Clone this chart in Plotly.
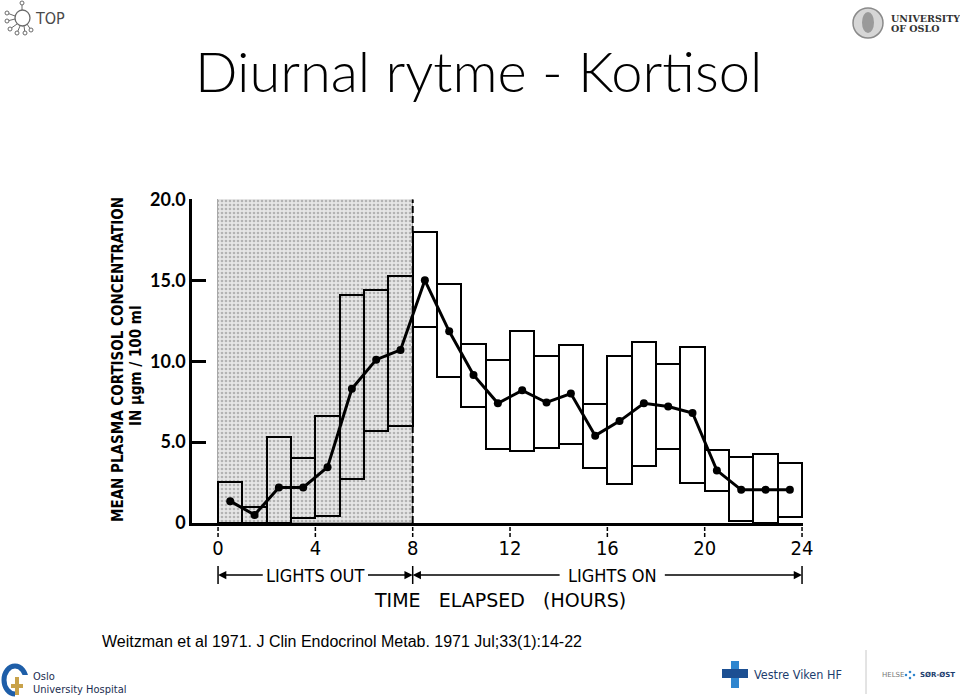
import plotly.graph_objects as go

# ---------------- data ----------------
hours_mid = [0.5, 1.5, 2.5, 3.5, 4.5, 5.5, 6.5, 7.5, 8.5, 9.5, 10.5, 11.5,
             12.5, 13.5, 14.5, 15.5, 16.5, 17.5, 18.5, 19.5, 20.5, 21.5, 22.5, 23.5]
box_upper = [2.55, 1.0, 5.3, 4.0, 6.6, 14.1, 14.4, 15.3, 18.0, 14.8, 11.05, 10.1,
             11.9, 10.3, 11.0, 7.35, 10.3, 11.2, 9.8, 10.9, 4.5, 4.05, 4.25, 3.7]
box_lower = [0.0, 0.0, 0.0, 0.3, 0.45, 2.75, 5.7, 6.0, 12.1, 9.0, 7.15, 4.6,
             4.45, 4.65, 4.9, 3.4, 2.4, 3.55, 4.6, 2.5, 2.0, 0.1, 0.0, 0.35]
mean_cortisol = [1.35, 0.5, 2.2, 2.2, 3.45, 8.3, 10.1, 10.7, 15.0, 11.85, 9.15, 7.4,
                 8.2, 7.45, 8.0, 5.4, 6.3, 7.4, 7.2, 6.8, 3.25, 2.05, 2.05, 2.05]

x_ticks = [0, 4, 8, 12, 16, 20, 24]
y_ticks = [0, 5, 10, 15, 20]
y_ticktext = ["0", "5.0", "10.0", "15.0", "20.0"]
lights_out = [0, 8]
lights_on = [8, 24]
y_top = 20

# ---------------- layout geometry helpers ----------------
W, H = 960, 698
L, R, T, B = 192, 803, 199, 523


def px(x):
    return (x - L) / (R - L)


def py(y):
    return (B - y) / (B - T)


NARROW = "DejaVu Sans Condensed, Liberation Sans Narrow, Arial Narrow, sans-serif"

fig = go.Figure()

# lights-out shaded region (stippled)
fig.add_trace(go.Bar(
    x=[(lights_out[0] + lights_out[1]) / 2], y=[y_top], width=[lights_out[1] - lights_out[0]],
    marker=dict(color="#e4e4e4",
                line=dict(color="#a8a8a8", width=1),
                pattern=dict(shape=".", fgcolor="#808080", bgcolor="#e6e6e6",
                             size=4, solidity=0.35)),
    hoverinfo="skip",
))

# range boxes
fig.add_trace(go.Bar(
    x=hours_mid, y=[u - l for u, l in zip(box_upper, box_lower)], base=box_lower,
    width=1.0,
    marker=dict(color="rgba(0,0,0,0)", line=dict(color="black", width=2)),
))

# mean line
fig.add_trace(go.Scatter(
    x=hours_mid, y=mean_cortisol, mode="lines+markers",
    line=dict(color="black", width=3),
    marker=dict(color="black", size=8),
))

shapes = []
annotations = []


def note(x, y, text, font, xref="paper", yref="paper", xanchor="center", yanchor="middle", **kw):
    annotations.append(dict(x=x, y=y, xref=xref, yref=yref, text=text, showarrow=False,
                            xanchor=xanchor, yanchor=yanchor, font=font, **kw))


# dashed line at end of lights-out
shapes.append(dict(type="line", xref="x", yref="y", x0=lights_out[1], x1=lights_out[1],
                   y0=0, y1=y_top, line=dict(color="black", width=2, dash="7px,3px"),
                   layer="above"))

# dashed x ticks
for t in x_ticks:
    shapes.append(dict(type="line", xref="x", yref="paper", x0=t, x1=t,
                       y0=py(527), y1=py(538),
                       line=dict(color="black", width=1.5, dash="4px,2px")))

# lights out / on bar row
row_y = py(575)
for t in [lights_out[0], lights_out[1], lights_on[1]]:
    shapes.append(dict(type="line", xref="x", yref="paper", x0=t, x1=t,
                       y0=py(584), y1=py(566), line=dict(color="black", width=1.5)))

for head, tail in [(lights_out[0], 1.9), (lights_out[1], 6.1),
                   (lights_on[0], 14.1), (lights_on[1], 18.3)]:
    annotations.append(dict(x=head, y=row_y, xref="x", yref="paper",
                            ax=tail, ay=0, axref="x", ayref="pixel",
                            text="", showarrow=True, arrowhead=2, arrowsize=1.1,
                            arrowwidth=1.5, arrowcolor="black", standoff=0))

note(4.0, row_y, "LIGHTS OUT", dict(family=NARROW, size=18, color="black"), xref="x")
note(16.2, row_y, "LIGHTS ON", dict(family=NARROW, size=18, color="black"), xref="x")
note(11.6, py(600), "TIME   ELAPSED   (HOURS)", dict(family="DejaVu Sans", size=19, color="black"),
     xref="x")

# y-axis title
note(px(118), py(360), "<b>MEAN PLASMA CORTISOL CONCENTRATION</b>",
     dict(family=NARROW, size=15, color="black"), textangle=-90)
note(px(136), py(366), "<b>IN μgm / 100 ml</b>",
     dict(family=NARROW, size=15, color="black"), textangle=-90)

# slide title
note(px(478), py(70), "Diurnal rytme - Kortisol",
     dict(family="Lato", size=56, color="black", weight=300))

# citation
note(px(100), py(641), "Weitzman et al 1971. J Clin Endocrinol Metab. 1971 Jul;33(1):14-22",
     dict(family="Liberation Sans, Arial", size=16, color="black"), xanchor="left")

# ---------------- logos (decorative) ----------------
# TOP logo
shapes.append(dict(type="circle", xref="paper", yref="paper", x0=px(15), x1=px(30),
                   y0=py(26), y1=py(10), line=dict(color="#6a6a6a", width=1.3)))
for (cx, cy), (ex, ey) in [((22, 3), (22, 10)), ((7, 13), (15, 16)), ((7, 21), (15, 19)),
                           ((10, 29), (17, 24)), ((17, 33), (20, 26)), ((25, 33), (24, 26)),
                           ((31, 30), (27, 24))]:
    shapes.append(dict(type="line", xref="paper", yref="paper", x0=px(cx), x1=px(ex),
                       y0=py(cy), y1=py(ey), line=dict(color="#6a6a6a", width=1)))
    shapes.append(dict(type="circle", xref="paper", yref="paper", x0=px(cx - 2), x1=px(cx + 2),
                       y0=py(cy + 2), y1=py(cy - 2), fillcolor="white",
                       line=dict(color="#6a6a6a", width=1)))
note(px(33), py(18), "TOP", dict(family=NARROW, size=16, color="#4a4a4a"), xanchor="left")

# University of Oslo logo
shapes.append(dict(type="circle", xref="paper", yref="paper", x0=px(853), x1=px(883),
                   y0=py(38), y1=py(8), fillcolor="#d6d6d6", line=dict(color="#8a8a8a", width=1.5)))
shapes.append(dict(type="circle", xref="paper", yref="paper", x0=px(862), x1=px(874),
                   y0=py(33), y1=py(12), fillcolor="#9a9a9a", line=dict(width=0)))
note(px(889), py(18), "<b>UNIVERSITY</b>", dict(family="DejaVu Serif", size=9.5, color="#333"),
     xanchor="left")
note(px(889), py(29), "<b>OF OSLO</b>", dict(family="DejaVu Serif", size=9.5, color="#333"),
     xanchor="left")

# Oslo University Hospital
shapes.append(dict(type="circle", xref="paper", yref="paper", x0=px(4), x1=px(26),
                   y0=py(694), y1=py(666), line=dict(color="#1e5ea8", width=5)))
shapes.append(dict(type="rect", xref="paper", yref="paper", x0=px(15), x1=px(29),
                   y0=py(697), y1=py(675), fillcolor="white", line=dict(width=0)))
shapes.append(dict(type="rect", xref="paper", yref="paper", x0=px(15), x1=px(19),
                   y0=py(695), y1=py(677), fillcolor="#c8a24a", line=dict(width=0)))
shapes.append(dict(type="rect", xref="paper", yref="paper", x0=px(11), x1=px(23),
                   y0=py(688), y1=py(684), fillcolor="#c8a24a", line=dict(width=0)))
note(px(31), py(676), "Oslo", dict(family=NARROW, size=11, color="#1b2d4f"), xanchor="left")
note(px(31), py(689), "University Hospital", dict(family=NARROW, size=11, color="#1b2d4f"),
     xanchor="left")

# Vestre Viken HF
shapes.append(dict(type="rect", xref="paper", yref="paper", x0=px(731), x1=px(739),
                   y0=py(688), y1=py(661), fillcolor="#2f86cf", line=dict(width=0)))
shapes.append(dict(type="rect", xref="paper", yref="paper", x0=px(722), x1=px(748),
                   y0=py(678), y1=py(669), fillcolor="#1c4f92", line=dict(width=0)))
note(px(752), py(674), "Vestre Viken HF", dict(family=NARROW, size=12.5, color="#1c3d6e"),
     xanchor="left")
shapes.append(dict(type="line", xref="paper", yref="paper", x0=px(866), x1=px(866),
                   y0=py(650), y1=py(694), line=dict(color="#c8c8c8", width=1)))
note(px(880), py(675), "HELSE", dict(family="DejaVu Sans", size=7, color="#777"), xanchor="left")
for dx, dy in [(906, 675), (910, 672), (910, 678), (914, 675)]:
    shapes.append(dict(type="circle", xref="paper", yref="paper", x0=px(dx - 1.3), x1=px(dx + 1.3),
                       y0=py(dy + 1.3), y1=py(dy - 1.3), fillcolor="#2f86cf", line=dict(width=0)))
note(px(918), py(675), "<b>SØR-ØST</b>", dict(family="DejaVu Sans", size=7, color="#1c3d6e"),
     xanchor="left")

fig.update_layout(
    width=W, height=H, autosize=False,
    margin=dict(l=L, r=W - R, t=T, b=H - B, pad=0),
    paper_bgcolor="white", plot_bgcolor="white",
    showlegend=False, barmode="overlay", bargap=0,
    shapes=shapes, annotations=annotations,
    xaxis=dict(range=[-1.07, 24.04], showline=True, linecolor="black", linewidth=2.5,
               tickvals=x_ticks, ticks="outside", ticklen=5, tickcolor="rgba(0,0,0,0)",
               tickfont=dict(family=NARROW, size=20, color="black"),
               showgrid=False, zeroline=False, fixedrange=True),
    yaxis=dict(range=[0, 20.03], showline=True, linecolor="black", linewidth=2.5,
               tickvals=y_ticks, ticktext=y_ticktext, ticks="inside", ticklen=14,
               tickwidth=2.5, tickcolor="black",
               tickfont=dict(family="Lato", size=18, color="black", weight="bold"),
               showgrid=False, zeroline=False, fixedrange=True),
)

fig.write_html("out.html")
